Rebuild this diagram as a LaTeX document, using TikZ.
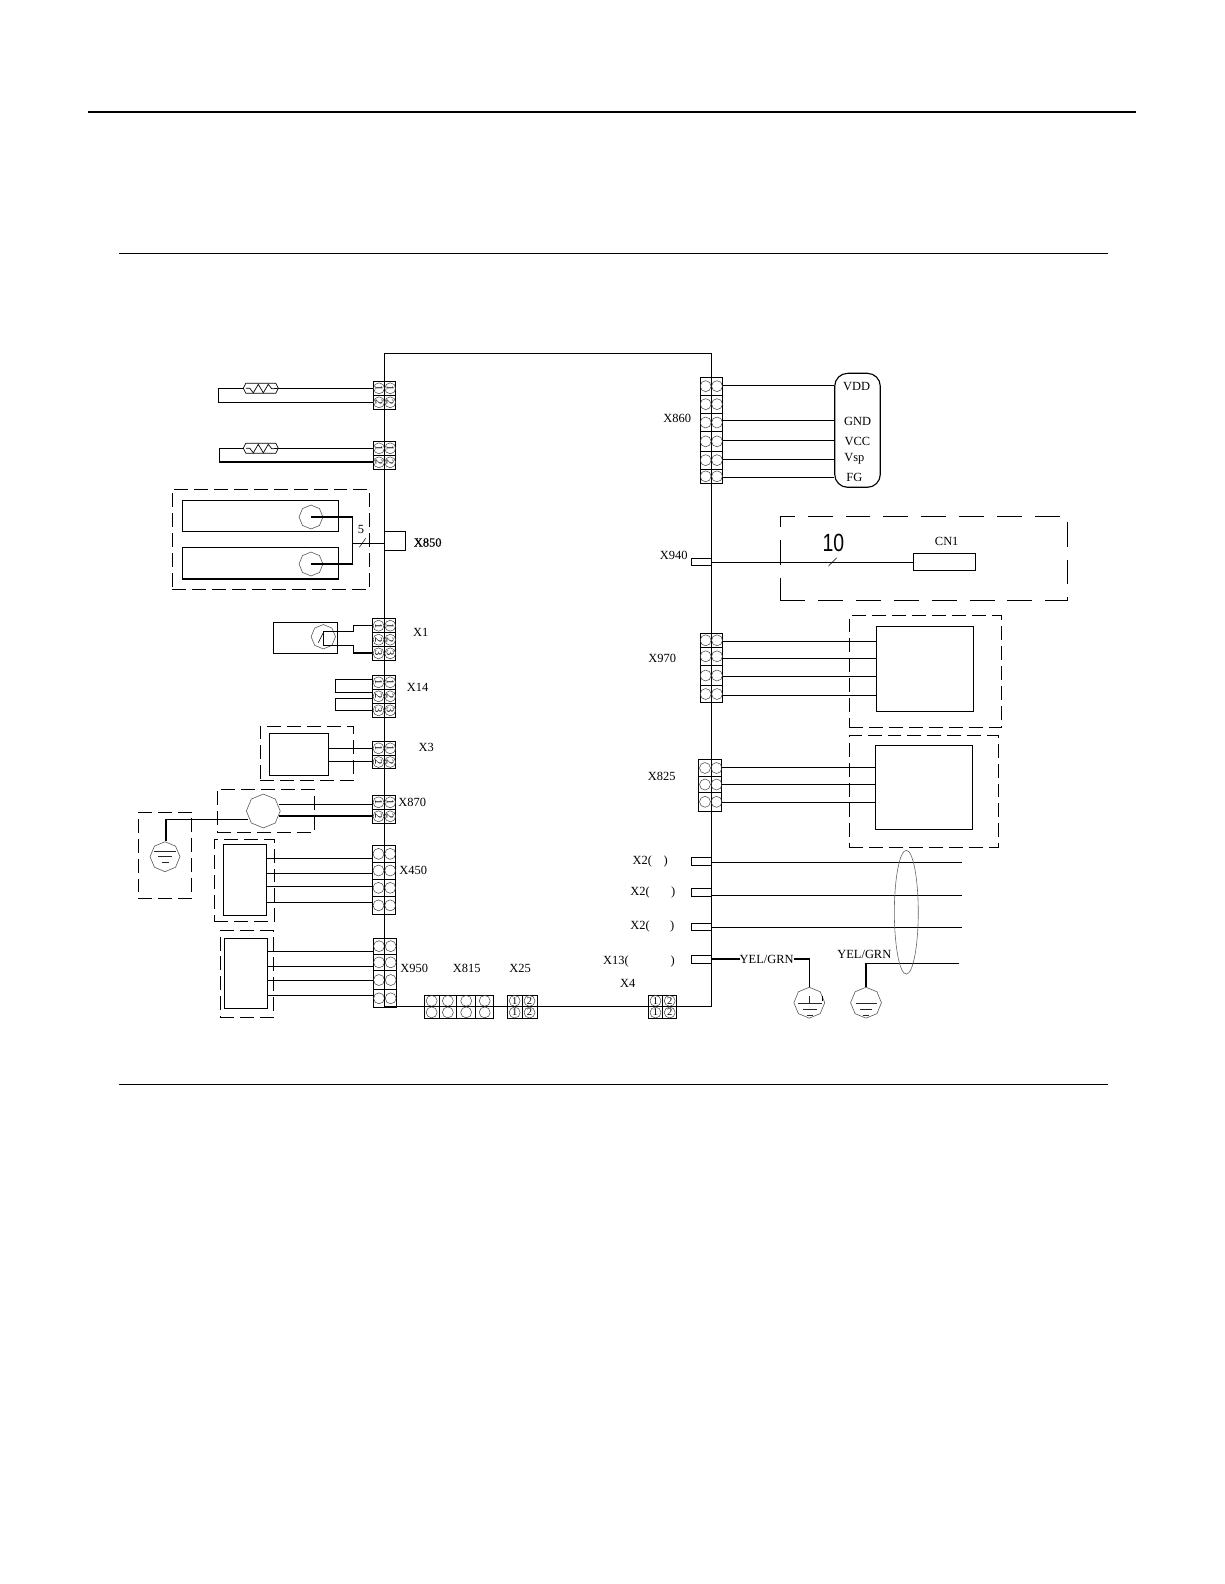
\documentclass[tikz,border=0pt]{standalone}
\usepackage{fontspec}
\setmainfont{Liberation Serif}
\newfontfamily\tensans{Liberation Sans}
\newfontfamily\heavyserif[FakeBold=0.5]{Liberation Serif}
\usetikzlibrary{fit,calc,shapes.geometric}
\tikzset{
  wire/.style={line width=1.15pt,line cap=butt},
  thinrule/.style={line width=0.8pt},
  boxed/.style={draw,line width=1.15pt,inner sep=0pt,fill=none},
  dashbox/.style={draw,line width=1.05pt,inner sep=0pt,dash pattern=on 14pt off 6pt},
  longdash/.style={draw,line width=1.05pt,inner sep=0pt,dash pattern=on 25pt off 13pt},
  lbl/.style={inner sep=0pt,font=\fontsize{12.5}{14}\selectfont},
  cellcirc/.style={circle,draw=black!75,line width=0.5pt,minimum size=11pt,inner sep=0pt,font=\fontsize{10.5}{10.5}\selectfont},
  octo/.style={regular polygon,regular polygon sides=8,shape border rotate=22.5,draw=black!65,line width=0.6pt,inner sep=0pt},
  gline/.style={line width=0.9pt,black!85},
}
% terminal block: name, outer x1,y1,x2,y2, column pairs, row pairs, digit mode
\newcommand{\tgrid}[8]{%
  \node[fit={(#2,-#3)(#4,-#5)},inner sep=0pt] (#1) {};
  \foreach \xa/\xb [count=\ci] in {#6}{
    \foreach \ya/\yb [count=\ri] in {#7}{
      \draw[line width=1pt] (\xa,-\ya) rectangle (\xb,-\yb);
      \ifcase#8\relax
        \node[cellcirc] (#1-\ri-\ci) at ($(\xa,-\ya)!.5!(\xb,-\yb)$) {};
      \or
        \node[cellcirc,rotate=-90] (#1-\ri-\ci) at ($(\xa,-\ya)!.5!(\xb,-\yb)$) {\ri};
      \or
        \node[cellcirc] (#1-\ri-\ci) at ($(\xa,-\ya)!.5!(\xb,-\yb)$) {\ci};
      \fi
    }
  }
}
\newcommand{\bx}[6]{\node[fit={(#2,-#3)(#4,-#5)},#6] (#1) {};}
\newcommand{\hw}[3]{\draw[wire] (#1 |- 0,-#3) -- (#2 |- 0,-#3);}
\newcommand{\txt}[4]{\node[lbl] (#1) at (#2,-#3-0.5) {#4};}
% resistor: name, left x, y (wire level), right x
\newcommand{\resis}[4]{%
  \coordinate (#1-l) at (#2,-#3);
  \coordinate (#1-r) at (#4,-#3);
  \draw[line width=0.7pt] (#2,-#3) -- ++(2.5,5) -- (#4-2.5,-#3+5) -- (#4,-#3) -- (#4-2.5,-#3-5) -- (#2+2.5,-#3-5) -- cycle;
  \draw[line width=0.7pt] (#2+2.5,-#3) -- ++(4,-0) -- ++(3.5,-4.5) -- ++(5,8.5) -- ++(5,-8.5) -- ++(5,8.5) -- ++(3.5,-4.5) -- (#4,-#3);
}
\begin{document}
\begin{tikzpicture}[x=1bp,y=1bp]
\useasboundingbox (0,0) rectangle (1224,-1584);
\fill[white] (0,0) rectangle (1224,-1584);
% page rules
\coordinate (r1a) at (88,-112);\coordinate (r1b) at (1136,-112);
\coordinate (r2a) at (119,-253.5);\coordinate (r2b) at (1108,-253.5);
\coordinate (r3a) at (119,-1084);\coordinate (r3b) at (1108,-1084);
\draw[line width=1.9pt] (r1a) -- (r1b);
\draw[thinrule] (r2a) -- (r2b);
\draw[thinrule] (r3a) -- (r3b);
% board
\bx{board}{384.7}{353.5}{711.3}{1006.7}{boxed}
% sensors on the upper left
\resis{rt1}{243.3}{388.3}{278.3}
\resis{rt2}{243.3}{448.3}{278.3}
\tgrid{xa}{373.3}{381.3}{395.7}{409.3}{373.3/384.7,384.7/395.7}{381.3/395.3,395.3/409.3}{1}
\tgrid{xb}{373.3}{441.3}{395.7}{469.3}{373.3/384.7,384.7/395.7}{441.3/455.3,455.3/469.3}{1}
\draw[wire] (rt1-r) -- (xa.west |- rt1-r);
\draw[wire] (rt1-l) -- (218.3,-388.3) -- (218.3,-402.3) -- (xa.west |- 0,-402.3);
\draw[wire] (rt2-r) -- (xb.west |- rt2-r);
\draw[wire] (rt2-l) -- (219.3,-448.3) -- (219.3,-462) -- (xb.west |- 0,-462);
% X850 group
\bx{dash850}{172.3}{489.3}{369.3}{589.3}{dashbox}
\bx{m1box}{182.3}{500.3}{338.3}{531.3}{boxed}
\bx{m2box}{182.3}{547.3}{338.3}{579}{boxed}
\node[octo,minimum size=24pt] (m1) at (311,-517) {};
\node[octo,minimum size=24pt] (m2) at (311,-564) {};
\coordinate (bus) at (352.3,-543.3);
\draw[wire] (m1.center) -- (bus |- m1.center) -- (bus |- m2.center) -- (m2.center);
\draw[wire] (bus) -- (bus -| board.west);
\coordinate (sl5a) at (359.3,-547.3);\coordinate (sl5b) at (365.7,-538.3);
\draw[line width=0.5pt] (sl5a) -- (sl5b);
\txt{t5}{361}{529}{5}
\coordinate (x850a) at (405.7,-531.3);\coordinate (x850b) at (405.7,-550.3);
\draw[wire] (board.west |- x850a) -- (x850a) -- (x850b) -- (board.west |- x850b);
\node[lbl,font=\heavyserif\fontsize{12.5}{14}\selectfont] (tx850) at (427.7,-542.5) {X850};
% X1
\tgrid{xone}{372.3}{618.7}{395.7}{660}{372.3/384.7,384.7/395.7}{618.7/632.7,632.7/646.7,646.7/660}{1}
\bx{x1box}{273.3}{622.3}{337.3}{653.3}{boxed}
\node[octo,minimum size=24.5pt] (x1m) at (323.3,-636.7) {};
\draw[wire] (xone.west |- 0,-625.7) -- (353.3,-625.7) -- (353.3,-631.3) -- (323.3,-631.3) -- (323.3,-645.3) -- (353.3,-645.3) -- (353.3,-653) -- (xone.west |- 0,-653);
\coordinate (x1sa) at (318.3,-642.7);\coordinate (x1sb) at (323.3,-632.7);
\draw[line width=0.6pt] (x1sa) -- (x1sb);
\txt{tx1}{420.7}{632.3}{X1}
% X14
\tgrid{xfourteen}{372.3}{675.3}{395.7}{717.3}{372.3/384.7,384.7/395.7}{675.3/689.3,689.3/703.3,703.3/717.3}{1}
\coordinate (b14) at (335.7,-679.3);\coordinate (c14) at (335.7,-698.3);
\draw[wire] (xfourteen.west |- b14) -- (b14) -- (335.7,-692.3) -- (xfourteen.west |- 0,-692.3);
\draw[wire] (xfourteen.west |- c14) -- (c14) -- (335.7,-710.3) -- (xfourteen.west |- 0,-710.3);
\txt{tx14}{417.7}{687.3}{X14}
% X3
\tgrid{xthree}{372.3}{741.3}{395.7}{768.7}{372.3/384.7,384.7/395.7}{741.3/755.3,755.3/768.7}{1}
\bx{dash3}{260.3}{726.3}{353.3}{780.3}{dashbox}
\bx{x3box}{269.3}{733.3}{328.7}{775.3}{boxed}
\hw{x3box.east}{xthree.west}{748.3}
\hw{x3box.east}{xthree.west}{761.3}
\txt{tx3}{426.3}{747.3}{X3}
% X870
\tgrid{xeight}{372.3}{795.3}{395.7}{823.3}{372.3/384.7,384.7/395.7}{795.3/809.3,809.3/823.3}{1}
\bx{dash870}{217.3}{789.3}{314.3}{832.3}{dashbox}
\node[octo,minimum size=34pt] (fan) at (263.3,-811) {};
\draw[wire] (279,-804.3) -- (xeight.west |- 0,-804.3);
\draw[wire] (279,-816) -- (xeight.west |- 0,-816);
\txt{tx870}{412.3}{801.7}{X870}
\bx{dashg}{138.3}{812.3}{191.7}{898.3}{dashbox}
\node[octo,minimum size=30pt] (g1) at (165,-856.7) {};
\draw[wire] (248,-819.3) -- (166,-819.3) -- (g1.north -| 166,0);
\draw[gline] (154,-851.7) -- (176,-851.7) (158.3,-856.7) -- (171.7,-856.7) (162,-862) -- (169.3,-862);
% X450
\tgrid{xfourfifty}{372.3}{845.7}{395.7}{914}{372.3/384.7,384.7/395.7}{845.7/862,862/879,879/896.7,896.7/914}{0}
\bx{dash450}{214.3}{839.3}{274.7}{921.7}{dashbox}
\bx{x450box}{223.3}{844.3}{266.7}{915.7}{boxed}
\hw{x450box.east}{xfourfifty.west}{858.3}
\hw{x450box.east}{xfourfifty.west}{873.3}
\hw{x450box.east}{xfourfifty.west}{886.7}
\hw{x450box.east}{xfourfifty.west}{902.3}
\txt{tx450}{413.3}{870}{X450}
% X950
\tgrid{xninefifty}{373.3}{938.3}{396.7}{1007.3}{373.3/384.7,384.7/396.7}{938.3/954,954/970.7,970.7/989.3,989.3/1007.3}{0}
\bx{dash950}{220.3}{930.7}{273.7}{1017.3}{dashbox}
\bx{x950box}{224.3}{938.3}{267.7}{1008.3}{boxed}
\hw{x950box.east}{xninefifty.west}{951.3}
\hw{x950box.east}{xninefifty.west}{966.3}
\hw{x950box.east}{xninefifty.west}{980.3}
\hw{x950box.east}{xninefifty.west}{995.3}
\txt{tx950}{414.3}{968.3}{X950}
% bottom connectors
\tgrid{xeightfifteen}{424.3}{995}{493.7}{1018}{424.3/439,439/456.7,456.7/475.7,475.7/493.7}{995/1006.7,1006.7/1018}{0}
\tgrid{xtwentyfive}{507.3}{995}{537}{1018.3}{507.3/522,522/537}{995/1006.7,1006.7/1018.3}{2}
\tgrid{xfour}{648.3}{995}{676.7}{1018.3}{648.3/662.7,662.7/676.7}{995/1006.7,1006.7/1018.3}{2}
\txt{tx815}{466.7}{967.7}{X815}
\txt{tx25}{520}{967.7}{X25}
\txt{tx4}{627.7}{983.3}{X4}
% X860
\tgrid{xsixty}{700}{377.3}{722.7}{483.3}{700/711.3,711.3/722.7}{377.3/395,395/413.3,413.3/431.7,431.7/451,451/469.3,469.3/483.3}{0}
\bx{fanconn}{834.7}{373.3}{880.3}{487.3}{boxed,rounded corners=13pt}
\hw{xsixty.east}{fanconn.west}{385.3}
\hw{xsixty.east}{fanconn.west}{420.3}
\hw{xsixty.east}{fanconn.west}{440.3}
\hw{xsixty.east}{fanconn.west}{459.3}
\hw{xsixty.east}{fanconn.west}{477.3}
\txt{tx860}{677.3}{418}{X860}
\txt{tvdd}{856.7}{385.7}{VDD}
\txt{tgnd}{857.7}{421.3}{GND}
\txt{tvcc}{857.3}{441.3}{VCC}
\txt{tvsp}{854.3}{458.7}{Vsp}
\txt{tfg}{854.3}{477.3}{FG}
% X940
\bx{stub940}{691.3}{558.3}{711.3}{565.3}{boxed}
\bx{dash940}{780.3}{516.3}{1067.3}{600.3}{longdash}
\bx{cn}{913.3}{553.3}{975.7}{570.7}{boxed}
\hw{board.east}{cn.west}{562.3}
\coordinate (sl10a) at (828.3,-566.3);\coordinate (sl10b) at (836.7,-557.7);
\draw[line width=0.5pt] (sl10a) -- (sl10b);
\node[inner sep=0pt,font=\tensans\fontsize{25}{25}\selectfont,xscale=0.78] (t10) at (833.3,-543) {10};
\txt{tcn}{946.7}{541}{CN1}
\txt{tx940}{673.7}{554.7}{X940}
% X970
\tgrid{xnineseventy}{700}{633.3}{722.7}{702.3}{700/711.3,711.3/722.7}{633.3/647.3,647.3/665.3,665.3/685.7,685.7/702.3}{0}
\bx{dash970}{849.3}{615.7}{1001.3}{727.3}{dashbox}
\bx{x970box}{876.3}{626.3}{973.3}{711.3}{boxed}
\hw{xnineseventy.east}{x970box.west}{641.3}
\hw{xnineseventy.east}{x970box.west}{658.3}
\hw{xnineseventy.east}{x970box.west}{676.3}
\hw{xnineseventy.east}{x970box.west}{695.3}
\txt{tx970}{662.3}{657.7}{X970}
% X825
\tgrid{xeighttwofive}{698.7}{759.3}{721.7}{811.3}{698.7/711.3,711.3/721.7}{759.3/776.7,776.7/792.3,792.3/811.3}{0}
\bx{dash825}{849.3}{735.3}{998.7}{847.3}{dashbox}
\bx{x825box}{875.3}{745.3}{972.3}{829.3}{boxed}
\hw{xeighttwofive.east}{x825box.west}{767.3}
\hw{xeighttwofive.east}{x825box.west}{784.3}
\hw{xeighttwofive.east}{x825box.west}{802.3}
\txt{tx825}{661.7}{776}{X825}
% X2 and X13 stubs
\bx{st1}{691.3}{857.7}{711.3}{865.7}{boxed}
\bx{st2}{691.3}{888.7}{711.3}{896.3}{boxed}
\bx{st3}{691.3}{923.3}{711.3}{930.7}{boxed}
\bx{st4}{691.3}{955.7}{711.3}{963.3}{boxed}
\coordinate (end1) at (961.7,-862.3);
\coordinate (end2) at (961.7,-895.3);
\coordinate (end3) at (961.7,-927.3);
\draw[wire] (st1.east |- end1) -- (end1);
\draw[wire] (st2.east |- end2) -- (end2);
\draw[wire] (st3.east |- end3) -- (end3);
\txt{tx2a}{642.4}{861.3}{X2(}
\txt{tp2a}{665.7}{861.3}{)}
\txt{tx2b}{640}{892}{X2(}
\txt{tp2b}{673.3}{892}{)}
\txt{tx2c}{640}{926}{X2(}
\txt{tp2c}{672.3}{926}{)}
\txt{tx13}{616}{960.7}{X13(}
\txt{tp13}{672.7}{960.7}{)}
% grounds
\txt{tyg1}{766.7}{958.7}{YEL/GRN}
\txt{tyg2}{864.3}{954.3}{YEL/GRN}
\node[octo,minimum size=31pt] (g2) at (809.3,-1002.7) {};
\node[octo,minimum size=31pt] (g3) at (866,-1002.7) {};
\draw[wire] (st4.east |- 0,-959) -- (tyg1.west |- 0,-959);
\draw[wire] (tyg1.east |- 0,-959) -- (809.3,-959) -- (g2.north);
\draw[gline] (809.3,-996) -- (809.3,-1003.3);
\draw[gline] (798.3,-1003.3) -- (821.7,-1003.3) (803.3,-1009.3) -- (816.7,-1009.3) (806.7,-1015) -- (812.7,-1015);
\draw[line width=0.6pt] (822.3,-995.5) -- (822.3,-1001);
\coordinate (end4) at (959,-963.3);
\draw[wire] (g3.north) -- (g3.north |- end4) -- (end4);
\draw[gline] (855.5,-1003.3) -- (876.5,-1003.3) (860,-1009.3) -- (872,-1009.3) (863,-1015) -- (869,-1015);
% shield
\node[ellipse,draw=black!60,line width=0.6pt,minimum width=24pt,minimum height=124.3pt,inner sep=0pt] (shield) at (906.3,-912.2) {};
\end{tikzpicture}
\end{document}
